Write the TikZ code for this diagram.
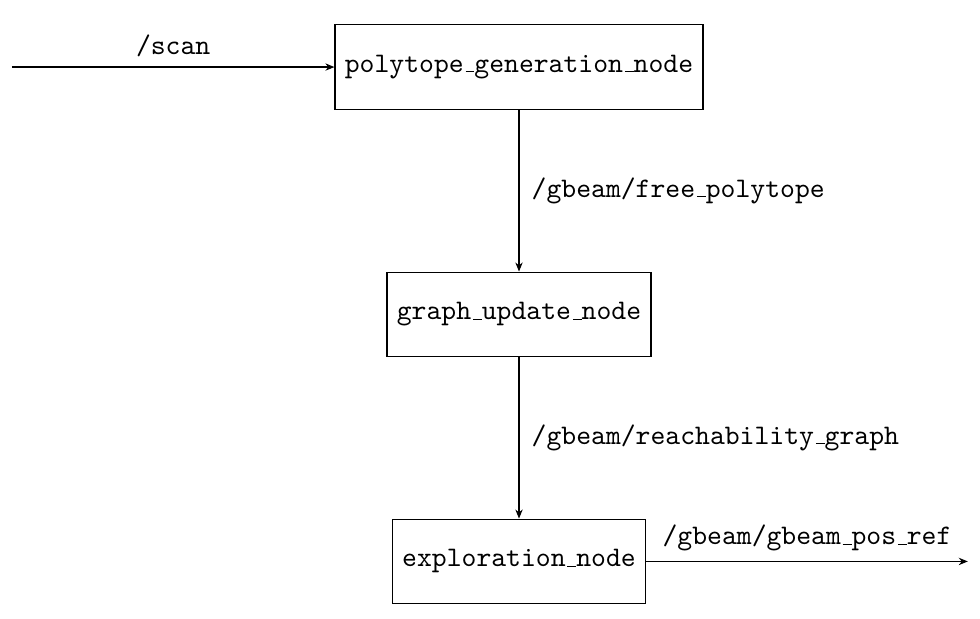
\documentclass[tikz,border=0pt]{standalone}
\usetikzlibrary{arrows.meta}
\newcommand\usc{\leavevmode\kern0.63pt\vbox{\hrule width 3.15pt}}
\begin{document}
\begin{tikzpicture}[x=1pt,y=1pt,
  rosbox/.style={draw,line width=0.4pt,inner xsep=3.5pt,minimum height=29.9pt,font=\ttfamily},
  topic/.style={font=\ttfamily},
  conn/.style={draw,line width=0.4pt,-{Stealth[length=3.2pt,width=2.6pt]}}]
\useasboundingbox (0,0) rectangle (346.3,-218.4);
\node[rosbox] (pg) at (183.4,-23.7) {polytope\usc generation\usc node};
\node[rosbox] (gu) at (183.4,-111.1) {graph\usc update\usc node};
\node[rosbox] (ex) at (183.4,-198.4) {exploration\usc node};
\coordinate (scanin) at (4.2,-23.7);
\coordinate (refout) at (342.0,-198.4);
\draw[conn] (scanin) -- node[topic,above,pos=0.5] {/scan} (pg.west);
\draw[conn] (pg.south) -- node[topic,right,inner xsep=4.3pt] {/gbeam/free\usc polytope} (gu.north);
\draw[conn] (gu.south) -- node[topic,right,inner xsep=4.3pt] {/gbeam/reachability\usc graph} (ex.north);
\draw[conn] (ex.east) -- node[topic,above] {/gbeam/gbeam\usc pos\usc ref} (refout);
\end{tikzpicture}
\end{document}
